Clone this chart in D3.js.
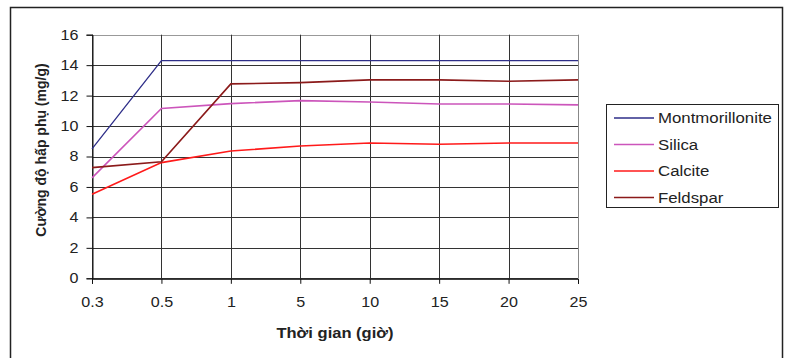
<!DOCTYPE html>
<html>
<head>
<meta charset="utf-8">
<script src="https://cdn.jsdelivr.net/npm/d3@7/dist/d3.min.js"></script>
<style>
  html, body { margin: 0; padding: 0; background: #fff; }
  svg { display: block; font-family: "Liberation Sans", Arial, sans-serif; }
</style>
</head>
<body>
<svg id="chart" width="787" height="358"></svg>
<script>
const categories = ["0.3", "0.5", "1", "5", "10", "15", "20", "25"];
const seriesNames = ["Montmorillonite", "Silica", "Calcite", "Feldspar"];
const montmorillonite = [8.5, 14.3, 14.3, 14.3, 14.3, 14.3, 14.3, 14.3];
const silica = [6.6, 11.15, 11.47, 11.67, 11.58, 11.45, 11.45, 11.39];
const calcite = [5.52, 7.6, 8.36, 8.69, 8.89, 8.8, 8.89, 8.89];
const feldspar = [7.27, 7.66, 12.77, 12.85, 13.03, 13.03, 12.94, 13.03];
const seriesColors = ["#2e2e88", "#cc55bb", "#ff1a1a", "#8b1a1a"];
const yTicks = [0, 2, 4, 6, 8, 10, 12, 14, 16];
const xTitle = "Thời gian (giờ)";
const yTitle = "Cường độ hấp phụ (mg/g)";

const seriesValues = [montmorillonite, silica, calcite, feldspar];

const svg = d3.select("#chart");

function stretch(sel, f) {
  sel.each(function () {
    const w = this.getComputedTextLength();
    d3.select(this).attr("textLength", w * f).attr("lengthAdjust", "spacingAndGlyphs");
  });
}

// outer frame
svg.append("rect")
  .attr("x", 10.5).attr("y", 7.5)
  .attr("width", 772).attr("height", 360)
  .attr("fill", "none").attr("stroke", "#222").attr("stroke-width", 1.5);

const pL = 92, pR = 578, pT = 34.7, pB = 278.3;

const x = d3.scalePoint().domain(categories).range([pL, pR]);
const y = d3.scaleLinear().domain([0, 16]).range([pB, pT]);

// grid
const g = svg.append("g");
g.selectAll("line.hgrid").data(yTicks).enter().append("line")
  .attr("class", "hgrid")
  .attr("x1", pL).attr("x2", pR)
  .attr("y1", d => Math.round(y(d)) + 0.5).attr("y2", d => Math.round(y(d)) + 0.5)
  .attr("stroke", d => d === 16 ? "#999" : "#333").attr("stroke-width", 1);
g.selectAll("line.vgrid").data(categories).enter().append("line")
  .attr("class", "vgrid")
  .attr("y1", pT).attr("y2", pB)
  .attr("x1", d => Math.round(x(d)) + 0.5).attr("x2", d => Math.round(x(d)) + 0.5)
  .attr("stroke", d => d === "25" ? "#888" : "#333").attr("stroke-width", 1);

// axes
const yAxis = d3.axisLeft(y).tickValues(yTicks).tickSize(6).tickPadding(8).tickFormat(d3.format("d"));
const yG = svg.append("g").attr("transform", `translate(${pL + 0.5},0)`).call(yAxis);
yG.select(".domain").attr("stroke", "#111");
yG.selectAll(".tick line").attr("stroke", "#111");
yG.selectAll(".tick text").attr("font-size", 14).attr("fill", "#222")
  .attr("font-family", "Liberation Sans, Arial, sans-serif");
stretch(yG.selectAll(".tick text"), 1.15);

const xAxis = d3.axisBottom(x).tickSize(5).tickPadding(13);
const xG = svg.append("g").attr("transform", `translate(0,${pB + 0.5})`).call(xAxis);
xG.select(".domain").attr("stroke", "#111");
xG.selectAll(".tick line").attr("stroke", "#111");
xG.selectAll(".tick text").attr("font-size", 14).attr("fill", "#222")
  .attr("font-family", "Liberation Sans, Arial, sans-serif");
stretch(xG.selectAll(".tick text"), 1.15);

// lines
const line = d3.line().x((d, i) => x(categories[i])).y(d => y(d));
seriesValues.forEach((vals, k) => {
  svg.append("path").datum(vals)
    .attr("d", line)
    .attr("fill", "none")
    .attr("stroke", seriesColors[k])
    .attr("stroke-width", k === 0 ? 1.3 : 1.6);
});

// titles
const xt = svg.append("text")
  .attr("x", 335).attr("y", 338)
  .attr("text-anchor", "middle")
  .attr("font-size", 14).attr("font-weight", "bold").attr("fill", "#222")
  .text(xTitle);
stretch(xt, 1.18);
svg.append("text")
  .attr("transform", "translate(46,150) rotate(-90)")
  .attr("text-anchor", "middle")
  .attr("font-size", 14).attr("font-weight", "bold").attr("fill", "#222")
  .text(yTitle);

// legend
const lg = svg.append("g");
lg.append("rect")
  .attr("x", 606.5).attr("y", 104.5).attr("width", 172).attr("height", 103)
  .attr("fill", "#fff").attr("stroke", "#222").attr("stroke-width", 1);
seriesNames.forEach((name, k) => {
  const ly = 118 + k * 26.5;
  lg.append("line").attr("x1", 614).attr("x2", 654).attr("y1", ly).attr("y2", ly)
    .attr("stroke", seriesColors[k]).attr("stroke-width", 1.5);
  const t = lg.append("text").attr("x", 658).attr("y", ly + 5)
    .attr("font-size", 14).attr("fill", "#222").text(name);
  stretch(t, 1.2);
});
</script>
</body>
</html>
